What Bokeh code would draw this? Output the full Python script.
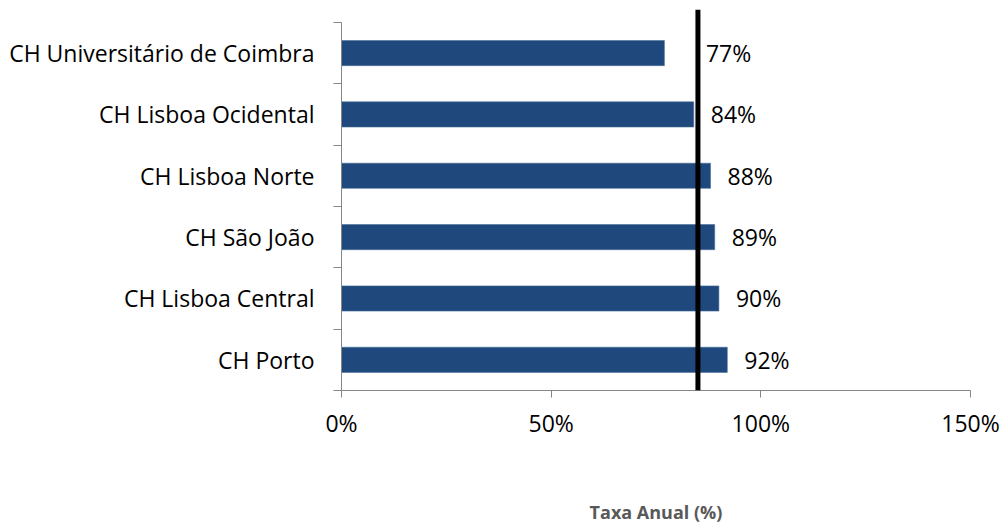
import numpy as np
from bokeh.plotting import figure
from bokeh.models import Range1d, FixedTicker, Span, LinearAxis, ColumnDataSource
from bokeh.core.properties import value
from bokeh.embed import file_html
from bokeh.resources import INLINE

# ---- data ----
categories = ["CH Porto", "CH Lisboa Central", "CH São João",
              "CH Lisboa Norte", "CH Lisboa Ocidental", "CH Universitário de Coimbra"]
rates = [92, 90, 89, 88, 84, 77]          # Taxa Anual (%)
target = 85                                # reference line (%)
x_ticks = [0, 50, 100, 150]
x_tick_labels = ["0%", "50%", "100%", "150%"]
axis_title = "Taxa Anual (%)"

FONT = "Open Sans"
AX = "#868686"

n = len(categories)
centers = [i + 0.5 for i in range(n)]
vals = np.array(rates, dtype=float)
labels = [f"{int(v)}%" for v in rates]
collide = vals + 4 < target
anchor = np.where(collide, target, vals)
offs = np.where(collide, 8, 17)

src = ColumnDataSource(dict(y=centers, v=vals, lab=labels, ax=anchor, off=offs))

p = figure(width=1004, height=528, output_backend="svg", toolbar_location=None,
           x_range=Range1d(0, 150), y_range=Range1d(0, n + 0.21),
           min_border_left=341, min_border_right=34, min_border_top=9,
           min_border_bottom=138)
p.outline_line_color = None
p.xgrid.visible = False
p.ygrid.visible = False
p.background_fill_color = "white"
p.border_fill_color = "white"

p.hbar(y="y", left=0, right="v", height=0.41, source=src,
       fill_color="#1F497D", line_color="#4a6c98", line_width=0.6)

p.add_layout(Span(location=target, dimension="height", line_color="black", line_width=5))

p.text(x="ax", y="y", text="lab", x_offset="off", source=src,
       text_font=value(FONT), text_font_size="23px", text_color="black",
       text_align="left", text_baseline="middle")

# x axis
xa = p.xaxis[0]
xa.ticker = FixedTicker(ticks=x_ticks)
xa.major_label_overrides = {t: l for t, l in zip(x_ticks, x_tick_labels)}
xa.axis_line_color = AX
xa.major_tick_line_color = AX
xa.major_tick_out = 7
xa.major_tick_in = 0
xa.minor_tick_line_color = None
xa.major_label_text_font = FONT
xa.major_label_text_font_size = "23px"
xa.major_label_text_color = "black"
xa.major_label_standoff = 9

# secondary (invisible) axis carrying the axis title
title_axis = LinearAxis(ticker=FixedTicker(ticks=[]),
                        axis_line_color=None, major_tick_line_color=None,
                        minor_tick_line_color=None, major_label_text_font_size="0px",
                        axis_label=axis_title, axis_label_standoff=58,
                        axis_label_text_font=FONT, axis_label_text_font_size="18px",
                        axis_label_text_font_style="bold",
                        axis_label_text_color="#595959")
p.add_layout(title_axis, "below")

# y axis
ya = p.yaxis[0]
ya.bounds = (0, n)
ya.ticker = FixedTicker(ticks=centers, minor_ticks=list(range(n + 1)))
ya.major_label_overrides = {c: name for c, name in zip(centers, categories)}
ya.axis_line_color = AX
ya.major_tick_line_color = None
ya.major_tick_out = 0
ya.major_tick_in = 0
ya.minor_tick_line_color = AX
ya.minor_tick_out = 8
ya.minor_tick_in = 0
ya.major_label_text_font = FONT
ya.major_label_text_font_size = "23px"
ya.major_label_text_color = "black"
ya.major_label_standoff = 19

open("out.html", "w").write(file_html(p, INLINE))
